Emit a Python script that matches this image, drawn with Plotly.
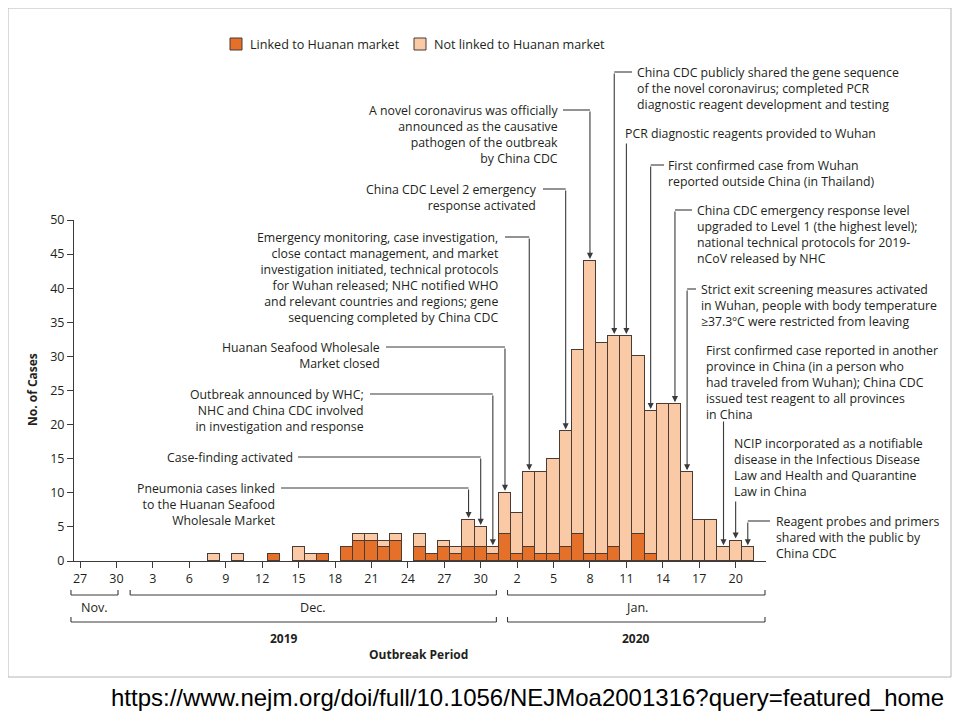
import plotly.graph_objects as go
import pandas as pd

# ---------------- data ----------------
dates = ["2019-12-08", "2019-12-10", "2019-12-13", "2019-12-15", "2019-12-16", "2019-12-17",
         "2019-12-19", "2019-12-20", "2019-12-21", "2019-12-22", "2019-12-23", "2019-12-25",
         "2019-12-26", "2019-12-27", "2019-12-28", "2019-12-29", "2019-12-30", "2019-12-31",
         "2020-01-01", "2020-01-02", "2020-01-03", "2020-01-04", "2020-01-05", "2020-01-06",
         "2020-01-07", "2020-01-08", "2020-01-09", "2020-01-10", "2020-01-11", "2020-01-12",
         "2020-01-13", "2020-01-14", "2020-01-15", "2020-01-16", "2020-01-17", "2020-01-18",
         "2020-01-19", "2020-01-20", "2020-01-21"]
linked = [0, 0, 1, 0, 0, 1,
          2, 3, 3, 2, 3, 2,
          1, 2, 1, 2, 2, 1,
          4, 1, 2, 1, 1, 2,
          4, 1, 1, 2, 0, 4,
          1, 0, 0, 0, 0, 0,
          0, 0, 0]
not_linked = [1, 1, 0, 2, 1, 0,
              0, 1, 1, 1, 1, 2,
              0, 1, 1, 4, 3, 1,
              6, 6, 11, 12, 14, 17,
              27, 43, 31, 31, 33, 26,
              21, 23, 23, 13, 6, 6,
              2, 3, 2]
series_names = ["Linked to Huanan market", "Not linked to Huanan market"]

tick_dates = ["2019-11-27", "2019-11-30", "2019-12-03", "2019-12-06", "2019-12-09", "2019-12-12",
              "2019-12-15", "2019-12-18", "2019-12-21", "2019-12-24", "2019-12-27", "2019-12-30",
              "2020-01-02", "2020-01-05", "2020-01-08", "2020-01-11", "2020-01-14", "2020-01-17",
              "2020-01-20"]
tick_labels = ["27", "30", "3", "6", "9", "12", "15", "18", "21", "24", "27", "30",
               "2", "5", "8", "11", "14", "17", "20"]

month_labels = ["Nov.", "Dec.", "Jan."]
year_labels = ["2019", "2020"]

# ---------------- style / geometry ----------------
OFF = 8                     # page body margin of the browser
W, H = 960 - OFF, 720 - OFF
PX_L, PX_R, PX_T, PX_B = 74, 766, 220, 561   # plot area in window pixels
X0 = pd.Timestamp("2019-11-26 12:00")
X1 = pd.Timestamp("2020-01-22 12:00")
Y_MAX = 50

DARK = "#E5702A"
LIGHT = "#FAC9A5"
EDGE = "#4b3b33"
LINE = "#3a3a3a"
TEXT = "#231f20"
FONT = "Open Sans"
FS = 12.3


def px_x(px):
    return (px - PX_L) / (PX_R - PX_L)


def px_y(py):
    return (PX_B - py) / (PX_B - PX_T)


def date_x(d):
    return (pd.Timestamp(d) - X0) / (X1 - X0)


def py_val(py):
    return (PX_B - py) / (PX_B - PX_T) * Y_MAX


fig = go.Figure()
fig.add_trace(go.Bar(x=dates, y=linked, name=series_names[0],
                     marker=dict(color=DARK, line=dict(color=EDGE, width=1))))
fig.add_trace(go.Bar(x=dates, y=not_linked, name=series_names[1],
                     marker=dict(color=LIGHT, line=dict(color=EDGE, width=1))))

fig.update_layout(
    width=W, height=H,
    margin=dict(l=PX_L - OFF, r=W - (PX_R - OFF), t=PX_T - OFF, b=H - (PX_B - OFF), pad=0),
    barmode="stack", bargap=0, showlegend=False,
    paper_bgcolor="white", plot_bgcolor="white",
    font=dict(family=FONT, size=12, color=TEXT),
)
fig.update_xaxes(type="date", range=[X0, X1], tickmode="array",
                 tickvals=tick_dates, ticktext=tick_labels,
                 showline=True, linecolor=LINE, linewidth=1,
                 ticks="outside", ticklen=6, tickcolor=LINE,
                 showgrid=False, zeroline=False,
                 tickfont=dict(size=12.5, color=TEXT, family=FONT))
fig.update_yaxes(range=[0, Y_MAX], tickmode="linear", tick0=0, dtick=5,
                 showline=True, linecolor=LINE, linewidth=1,
                 ticks="outside", ticklen=6, tickcolor=LINE,
                 showgrid=False, zeroline=False,
                 tickfont=dict(size=12.5, color=TEXT, family=FONT))

totals = {d: a + b for d, a, b in zip(dates, linked, not_linked)}

events = [
    dict(lines=["Pneumonia cases linked", "to the Huanan Seafood", "Wholesale Market"],
         side="right", tx=277, ty=488, date="2019-12-29", corner=488, lead=281),
    dict(lines=["Case-finding activated"],
         side="right", tx=294, ty=457, date="2019-12-30", corner=457, lead=298),
    dict(lines=["Outbreak announced by WHC;", "NHC and China CDC involved", "in investigation and response"],
         side="right", tx=365, ty=394, date="2019-12-31", corner=394, lead=370),
    dict(lines=["Huanan Seafood Wholesale", "Market closed"],
         side="right", tx=381, ty=347, date="2020-01-01", corner=347, lead=386),
    dict(lines=["Emergency monitoring, case investigation,", "close contact management, and market",
                "investigation initiated, technical protocols", "for Wuhan released; NHC notified WHO",
                "and relevant countries and regions; gene", "sequencing completed by China CDC"],
         side="right", tx=500, ty=237, date="2020-01-03", corner=237, lead=505),
    dict(lines=["China CDC Level 2 emergency", "response activated"],
         side="right", tx=538, ty=189, date="2020-01-06", corner=189, lead=543),
    dict(lines=["A novel coronavirus was officially", "announced as the causative",
                "pathogen of the outbreak", "by China CDC"],
         side="right", tx=559, ty=110, date="2020-01-08", corner=110, lead=563),
    dict(lines=["China CDC publicly shared the gene sequence", "of the novel coronavirus; completed PCR",
                "diagnostic reagent development and testing"],
         side="left", tx=636, ty=72, date="2020-01-10", corner=72, lead=632),
    dict(lines=["PCR diagnostic reagents provided to Wuhan"],
         side="left", tx=624, ty=133, date="2020-01-11", corner=142, lead=None),
    dict(lines=["First confirmed case from Wuhan", "reported outside China (in Thailand)"],
         side="left", tx=667, ty=165, date="2020-01-13", corner=165, lead=664),
    dict(lines=["China CDC emergency response level", "upgraded to Level 1 (the highest level);",
                "national technical protocols for 2019-", "nCoV released by NHC"],
         side="left", tx=696, ty=210, date="2020-01-15", corner=210, lead=692),
    dict(lines=["Strict exit screening measures activated", "in Wuhan, people with body temperature",
                "≥37.3ºC were restricted from leaving"],
         side="left", tx=700, ty=289, date="2020-01-16", corner=289, lead=696),
    dict(lines=["First confirmed case reported in another", "province in China (in a person who",
                "had traveled from Wuhan); China CDC", "issued test reagent to all provinces", "in China"],
         side="left", tx=705, ty=350, date="2020-01-19", corner=420, lead=None),
    dict(lines=["NCIP incorporated as a notifiable", "disease in the Infectious Disease",
                "Law and Health and Quarantine", "Law in China"],
         side="left", tx=733, ty=443, date="2020-01-20", corner=500, lead=None),
    dict(lines=["Reagent probes and primers", "shared with the public by", "China CDC"],
         side="left", tx=775, ty=521, date="2020-01-21", corner=521, lead=770),
]

shapes = []
for e in events:
    fig.add_annotation(xref="paper", yref="paper", x=px_x(e["tx"]), y=px_y(e["ty"] - 9),
                       xanchor=e["side"], yanchor="top", align=e["side"],
                       text="<br>".join(e["lines"]),
                       showarrow=False, borderpad=0, font=dict(size=FS, color=TEXT))
    fig.add_annotation(xref="x", yref="y", x=e["date"], y=totals[e["date"]],
                       axref="x", ayref="y", ax=e["date"], ay=py_val(e["corner"]),
                       text="", showarrow=True, arrowhead=2, arrowsize=1.1,
                       arrowwidth=1.1, arrowcolor=LINE, standoff=2)
    if e["lead"] is not None:
        shapes.append(dict(type="line", xref="paper", yref="paper",
                           x0=date_x(e["date"]), x1=px_x(e["lead"]),
                           y0=px_y(e["corner"]), y1=px_y(e["corner"]),
                           line=dict(color=LINE, width=1.1)))

# brackets under the axis
month_spans = [("2019-11-26 06:00", "2019-11-30 03:00"),
               ("2019-12-01 03:00", "2019-12-31 07:00"),
               ("2020-01-01 05:00", "2020-01-22 10:00")]
year_spans = [(month_spans[0][0], month_spans[1][1]), (month_spans[2][0], month_spans[2][1])]


def bracket(a, b, y_line, y_top):
    xa, xb = date_x(a), date_x(b)
    ya, yt = px_y(y_line), px_y(y_top)
    return [dict(type="line", xref="paper", yref="paper", x0=xa, x1=xb, y0=ya, y1=ya,
                 line=dict(color=LINE, width=1.1)),
            dict(type="line", xref="paper", yref="paper", x0=xa, x1=xa, y0=ya, y1=yt,
                 line=dict(color=LINE, width=1.1)),
            dict(type="line", xref="paper", yref="paper", x0=xb, x1=xb, y0=ya, y1=yt,
                 line=dict(color=LINE, width=1.1))]


for (a, b), lab in zip(month_spans, month_labels):
    shapes += bracket(a, b, 595, 590)
    fig.add_annotation(xref="paper", yref="paper", x=(date_x(a) + date_x(b)) / 2, y=px_y(607),
                       text=lab, showarrow=False, xanchor="center", yanchor="middle",
                       font=dict(size=12.6, color=TEXT))
for (a, b), lab in zip(year_spans, year_labels):
    shapes += bracket(a, b, 622, 617)
    fig.add_annotation(xref="paper", yref="paper", x=(date_x(a) + date_x(b)) / 2, y=px_y(638),
                       text="<b>" + lab + "</b>", showarrow=False, xanchor="center",
                       yanchor="middle", font=dict(size=12, color=TEXT))

fig.add_annotation(xref="paper", yref="paper", x=px_x(418), y=px_y(654),
                   text="<b>Outbreak Period</b>", showarrow=False, xanchor="center",
                   yanchor="middle", font=dict(size=12, color=TEXT))
fig.add_annotation(xref="paper", yref="paper", x=px_x(32), y=px_y(390),
                   text="<b>No. of Cases</b>", showarrow=False, textangle=-90,
                   xanchor="center", yanchor="middle", font=dict(size=12, color=TEXT))

# manual legend
for sx, col, lab in [(230, DARK, series_names[0]), (414, LIGHT, series_names[1])]:
    shapes.append(dict(type="rect", xref="paper", yref="paper",
                       x0=px_x(sx), x1=px_x(sx + 12), y0=px_y(50), y1=px_y(38),
                       fillcolor=col, line=dict(color=EDGE, width=1)))
    fig.add_annotation(xref="paper", yref="paper", x=px_x(sx + 18), y=px_y(44),
                       text=lab, showarrow=False, xanchor="left", yanchor="middle",
                       font=dict(size=12.6, color=TEXT))

# frame around the figure panel
shapes.append(dict(type="rect", xref="paper", yref="paper",
                   x0=px_x(8), x1=px_x(951), y0=px_y(677), y1=px_y(8),
                   line=dict(color="#b5b5b5", width=1), fillcolor="rgba(0,0,0,0)"))

fig.update_layout(shapes=shapes)

fig.add_annotation(xref="paper", yref="paper", x=px_x(527), y=px_y(697),
                   text="https://www.nejm.org/doi/full/10.1056/NEJMoa2001316?query=featured_home",
                   showarrow=False, xanchor="center", yanchor="middle",
                   font=dict(size=24, color="black", family="Liberation Sans, Arial"))

fig.write_html("out.html")
